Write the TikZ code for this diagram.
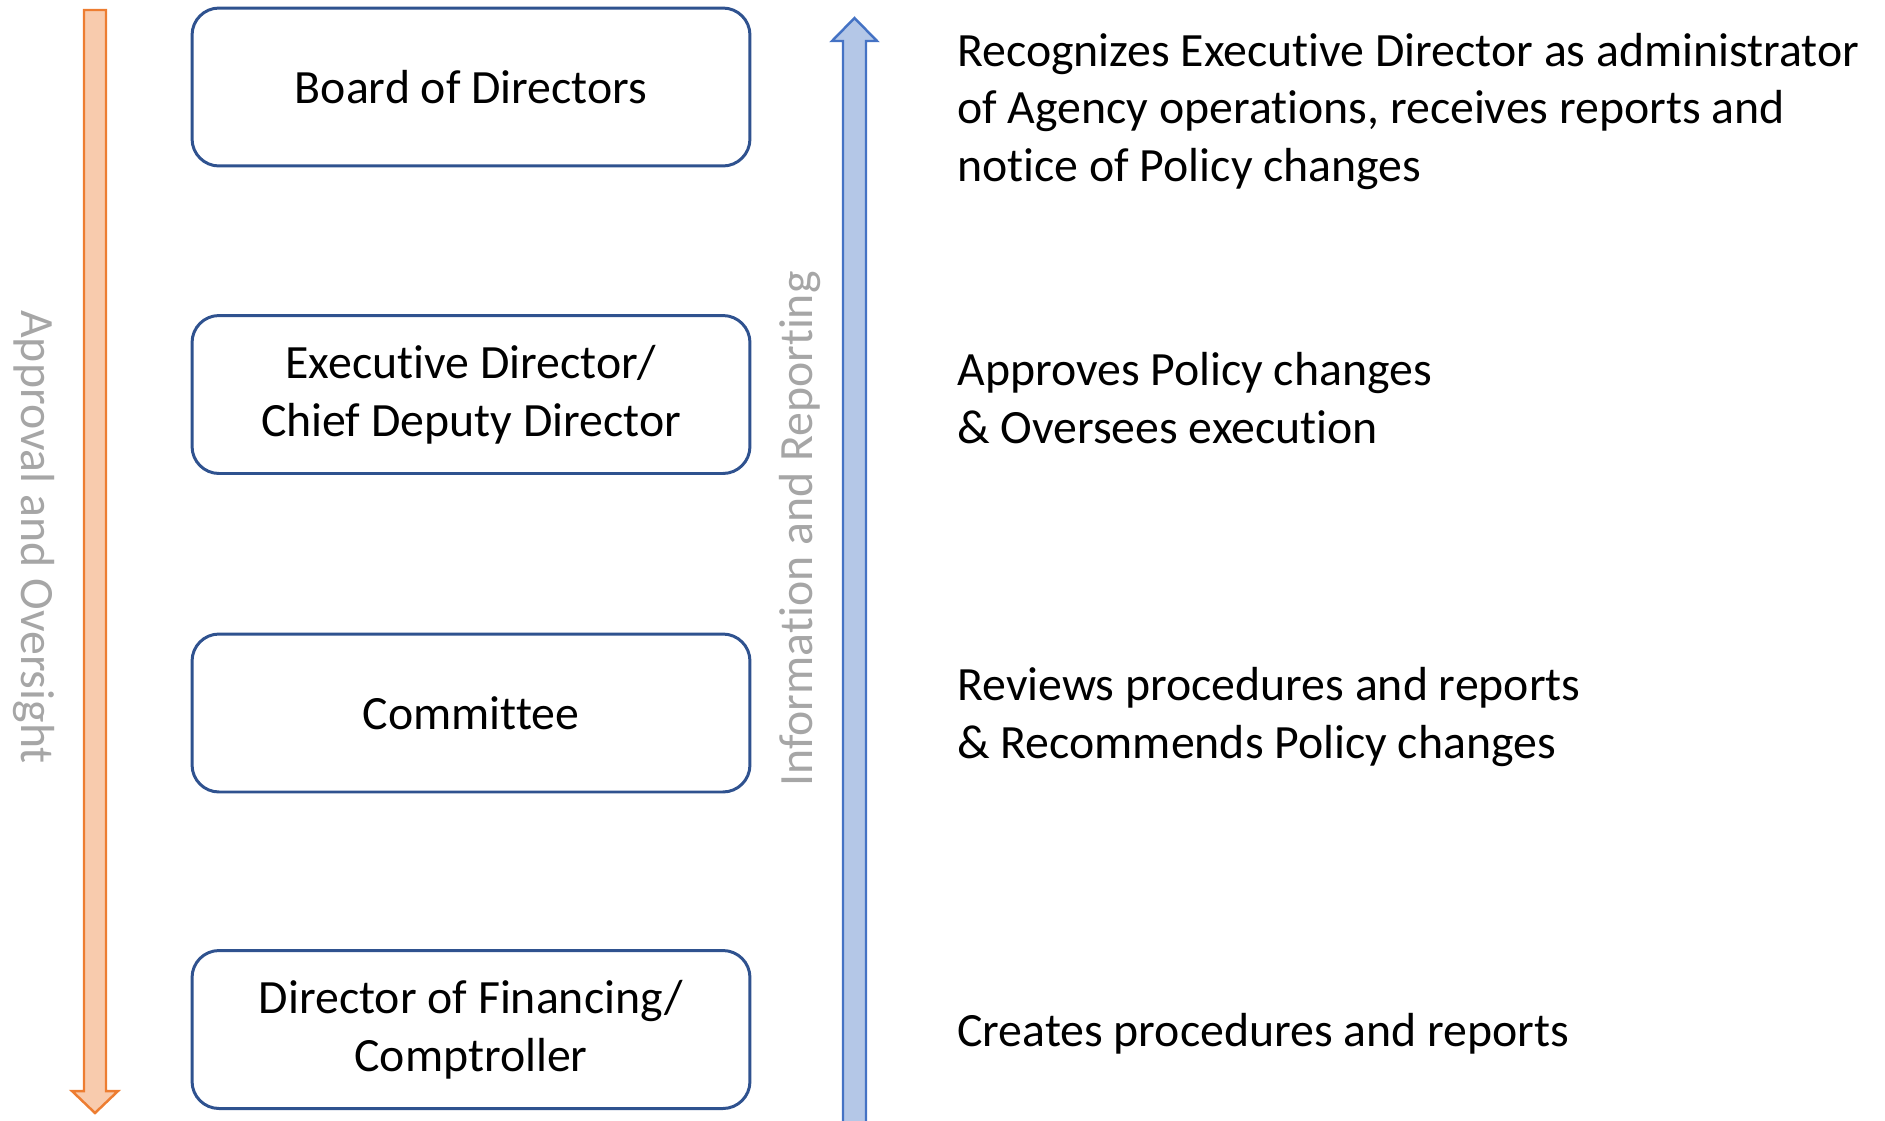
\documentclass[tikz,border=0pt]{standalone}
\usepackage{fontspec}
\setmainfont{Carlito}[Ligatures=NoCommon]
\usetikzlibrary{positioning}
\definecolor{boxblue}{RGB}{47,82,143}
\definecolor{arrorange}{RGB}{237,125,49}
\definecolor{fillorange}{RGB}{248,203,173}
\definecolor{arrblue}{RGB}{68,114,196}
\definecolor{fillblue}{RGB}{180,199,231}
\definecolor{labelgray}{RGB}{166,166,166}
\tikzset{
    rolebox/.style={draw=boxblue, line width=1.7pt, rounded corners=0.54cm,
        minimum width=11.16cm, minimum height=3.16cm, align=center,
        font=\fontsize{27.2}{33}\selectfont},
    note/.style={anchor=west, align=left, inner sep=0pt,
        font=\fontsize{27.2}{33}\selectfont},
    sidelabel/.style={text=labelgray, font=\fontsize{27.2}{33}\selectfont},
    downarrow/.style={draw=arrorange, fill=fillorange, line width=1.4pt, line join=miter},
    uparrow/.style={draw=arrblue, fill=fillblue, line width=1.4pt, line join=miter}
}
\begin{document}
\begin{tikzpicture}[x=0.02cm, y=-0.02cm]
    \useasboundingbox (0,0) rectangle (1885,1120);
    % block arrows
    \draw[downarrow] (84,10) -- (106,10) -- (106,1091) -- (118,1091) -- (95,1113)
        -- (72,1091) -- (84,1091) -- cycle;
    \draw[uparrow] (843,1135) -- (843,41) -- (832,41) -- (854.5,18) -- (877,41)
        -- (866,41) -- (866,1135) -- cycle;
    % roles
    \node[rolebox] (board) at (471,87) {Board of Directors};
    \node[rolebox] (exec) at (471,394.5) {Executive Director/\\Chief Deputy Director};
    \node[rolebox] (committee) at (471,713) {Committee};
    \node[rolebox] (finance) at (471,1029.5) {Director of Financing/\\Comptroller};
    % duties
    \node[note] (noteboard) at (957,111.5) {Recognizes Executive Director as administrator\\of Agency operations, receives reports and\\notice of Policy changes};
    \node[note] (noteexec) at (957,398) {Approves Policy changes\\\& Oversees execution};
    \node[note] (notecommittee) at (957,717) {Reviews procedures and reports\\\& Recommends Policy changes};
    \node[note] (notefinance) at (957,1034) {Creates procedures and reports};
    % side labels
    \node[sidelabel, rotate=-90] (approval) at (34,537) {Approval and Oversight};
    \node[sidelabel, rotate=90] (info) at (800,529) {Information and Reporting};
\end{tikzpicture}
\end{document}
